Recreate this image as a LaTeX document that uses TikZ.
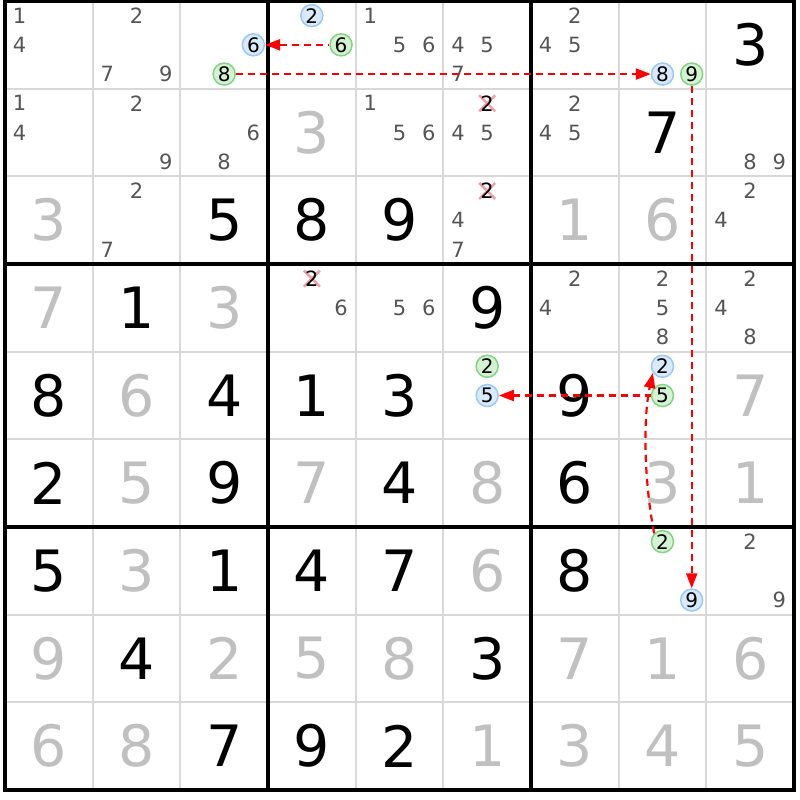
\documentclass[tikz,border=0pt]{standalone}
\usepackage{fontspec}
\setmainfont{DejaVu Sans}
\usetikzlibrary{arrows.meta}
\definecolor{candgray}{HTML}{555555}
\definecolor{solvedgray}{HTML}{C0C0C0}
\definecolor{thingrid}{HTML}{D8D8D8}
\definecolor{bluefill}{HTML}{D8EAFC}
\definecolor{blueline}{HTML}{99C9F5}
\definecolor{greenfill}{HTML}{D5F2D5}
\definecolor{greenline}{HTML}{7FD67F}
\definecolor{crossred}{HTML}{F4A0A8}
\definecolor{arrred}{HTML}{FF0000}
\newcommand\CS{87.667}
\newcommand\SC{29.222}
\newcommand\cnd[4][cand]{%
  \pgfmathsetmacro\cx{5+(#3-1)*\CS+(mod(#4-1,3)+0.5)*\SC}%
  \pgfmathsetmacro\cy{1+(#2-1)*\CS+(floor((#4-1)/3)+0.5)*\SC}%
  \node[#1] (n#2#3#4) at (\cx,\cy) {#4};}
\newcommand\cnds[3]{\foreach \dd in {#3}{\cnd{#1}{#2}{\dd}}}
\newcommand\bigdig[4]{%
  \pgfmathsetmacro\cx{5+(#3-0.5)*\CS}%
  \pgfmathsetmacro\cy{1+(#2-0.5)*\CS}%
  \node[#1] (d#2#3) at (\cx,\cy) {#4};}
\newcommand\crossed[3]{%
  \pgfmathsetmacro\cx{5+(#2-1)*\CS+(mod(#3-1,3)+0.5)*\SC}%
  \pgfmathsetmacro\cy{1+(#1-1)*\CS+(floor((#3-1)/3)+0.5)*\SC}%
  \draw[xmark] (\cx-8,\cy-8) -- (\cx+8,\cy+8) (\cx-8,\cy+8) -- (\cx+8,\cy-8);
  \node[cand,text=black] (n#1#2#3) at (\cx,\cy) {#3};}
\begin{document}
\begin{tikzpicture}[x=1pt,y=-1pt,
  cand/.style={inner sep=0pt, font=\fontsize{21}{21}\selectfont, text=candgray},
  bigd/.style={inner sep=0pt, font=\fontsize{57}{57}\selectfont},
  given/.style={bigd,text=black},
  solved/.style={bigd,text=solvedgray},
  bcirc/.style={circle, draw=blueline, fill=bluefill, line width=1.5pt, minimum size=22pt, inner sep=0pt, font=\fontsize{20}{20}\selectfont, text=black},
  gcirc/.style={bcirc, draw=greenline, fill=greenfill},
  xmark/.style={crossred, line width=2.6pt},
  arrline/.style={draw=arrred, line width=2.2pt, dash pattern=on 7pt off 5pt},
  arr/.style={arrline, -{Triangle[length=15pt,width=11pt]}},
  arrl/.style={arrline, {Triangle[length=15pt,width=11pt]}-},
  gridthin/.style={thingrid, line width=2pt},
  gridthick/.style={black, line width=3.2pt},
]
\fill[white] (0,0) rectangle (800,800);
\useasboundingbox (0,0) rectangle (800,800);
% grid
\foreach \i in {1,2,4,5,7,8}{
  \draw[gridthin] (5+\i*\CS,1) -- (5+\i*\CS,790);
  \draw[gridthin] (5,1+\i*\CS) -- (794,1+\i*\CS);
}
\foreach \i in {3,6}{
  \draw[gridthick] (5+\i*\CS,1) -- (5+\i*\CS,790);
  \draw[gridthick] (5,1+\i*\CS) -- (794,1+\i*\CS);
}
\draw[black, line width=4pt] (5,1.5) rectangle (794,790);
% row 1
\cnds{1}{1}{1,4}\cnds{1}{2}{2,7,9}
\cnd[bcirc]{1}{3}{6}\cnd[gcirc]{1}{3}{8}
\cnd[bcirc]{1}{4}{2}\cnd[gcirc]{1}{4}{6}
\cnds{1}{5}{1,5,6}\cnds{1}{6}{4,5,7}\cnds{1}{7}{2,4,5}
\cnd[bcirc]{1}{8}{8}\cnd[gcirc]{1}{8}{9}
\bigdig{given}{1}{9}{3}
% row 2
\cnds{2}{1}{1,4}\cnds{2}{2}{2,9}\cnds{2}{3}{6,8}
\bigdig{solved}{2}{4}{3}
\cnds{2}{5}{1,5,6}\crossed{2}{6}{2}\cnds{2}{6}{4,5}
\cnds{2}{7}{2,4,5}\bigdig{given}{2}{8}{7}\cnds{2}{9}{8,9}
% row 3
\bigdig{solved}{3}{1}{3}\cnds{3}{2}{2,7}
\bigdig{given}{3}{3}{5}\bigdig{given}{3}{4}{8}\bigdig{given}{3}{5}{9}
\crossed{3}{6}{2}\cnds{3}{6}{4,7}
\bigdig{solved}{3}{7}{1}\bigdig{solved}{3}{8}{6}\cnds{3}{9}{2,4}
% row 4
\bigdig{solved}{4}{1}{7}\bigdig{given}{4}{2}{1}\bigdig{solved}{4}{3}{3}
\crossed{4}{4}{2}\cnds{4}{4}{6}\cnds{4}{5}{5,6}
\bigdig{given}{4}{6}{9}\cnds{4}{7}{2,4}\cnds{4}{8}{2,5,8}\cnds{4}{9}{2,4,8}
% row 5
\bigdig{given}{5}{1}{8}\bigdig{solved}{5}{2}{6}\bigdig{given}{5}{3}{4}
\bigdig{given}{5}{4}{1}\bigdig{given}{5}{5}{3}
\cnd[gcirc]{5}{6}{2}\cnd[bcirc]{5}{6}{5}
\bigdig{given}{5}{7}{9}
\cnd[bcirc]{5}{8}{2}\cnd[gcirc]{5}{8}{5}
\bigdig{solved}{5}{9}{7}
% row 6
\bigdig{given}{6}{1}{2}\bigdig{solved}{6}{2}{5}\bigdig{given}{6}{3}{9}
\bigdig{solved}{6}{4}{7}\bigdig{given}{6}{5}{4}\bigdig{solved}{6}{6}{8}
\bigdig{given}{6}{7}{6}\bigdig{solved}{6}{8}{3}\bigdig{solved}{6}{9}{1}
% row 7
\bigdig{given}{7}{1}{5}\bigdig{solved}{7}{2}{3}\bigdig{given}{7}{3}{1}
\bigdig{given}{7}{4}{4}\bigdig{given}{7}{5}{7}\bigdig{solved}{7}{6}{6}
\bigdig{given}{7}{7}{8}
\cnd[gcirc]{7}{8}{2}\cnd[bcirc]{7}{8}{9}
\cnds{7}{9}{2,9}
% row 8
\bigdig{solved}{8}{1}{9}\bigdig{given}{8}{2}{4}\bigdig{solved}{8}{3}{2}
\bigdig{solved}{8}{4}{5}\bigdig{solved}{8}{5}{8}\bigdig{given}{8}{6}{3}
\bigdig{solved}{8}{7}{7}\bigdig{solved}{8}{8}{1}\bigdig{solved}{8}{9}{6}
% row 9
\bigdig{solved}{9}{1}{6}\bigdig{solved}{9}{2}{8}\bigdig{given}{9}{3}{7}
\bigdig{given}{9}{4}{9}\bigdig{given}{9}{5}{2}\bigdig{solved}{9}{6}{1}
\bigdig{solved}{9}{7}{3}\bigdig{solved}{9}{8}{4}\bigdig{solved}{9}{9}{5}
% arrows
\draw[arrl] (n136) -- (n146);
\draw[arr] (n138) -- (n188);
\draw[arr] (n189) -- (n789);
\draw[arrl] (n565) -- (n585);
\draw[arr] (n782.135) .. controls +(-10,-50) and +(-10,45) .. (n582.215);
\end{tikzpicture}
\end{document}
